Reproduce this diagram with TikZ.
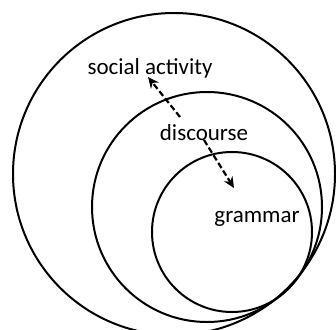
\documentclass[tikz,border=0pt]{standalone}
\usepackage{fontspec}
\setmainfont{Carlito}
\usetikzlibrary{arrows.meta}
\begin{document}
\begin{tikzpicture}[x=1pt,y=-1pt,
  ring/.style={draw=black,line width=2pt},
  lbl/.style={font=\fontsize{23}{25}\selectfont,inner sep=0pt},
  link/.style={draw=black,line width=2.2pt,dash pattern=on 6pt off 3pt,-{Stealth[length=11pt,width=10pt]}}]
\useasboundingbox (0,0) rectangle (336,329);
\begin{scope}
\clip (0,0) rectangle (336,329);
\node[ring,circle,minimum size=322pt,inner sep=0pt] (big) at (174,174) {};
\node[ring,circle,minimum size=230pt,inner sep=0pt] (mid) at (207,207) {};
\node[ring,circle,minimum size=160pt,inner sep=0pt] (small) at (232,232) {};
\end{scope}
\node[lbl] (sa) at (150,68) {social activity};
\node[lbl] (di) at (204,133) {discourse};
\node[lbl] (gr) at (257,219) {grammar};
\coordinate (a1s) at (180,117);
\coordinate (a1e) at (148,77);
\coordinate (a2s) at (204,140);
\coordinate (a2e) at (234,188);
\draw[link] (a1s) -- (a1e);
\draw[link] (a2s) -- (a2e);
\end{tikzpicture}
\end{document}
